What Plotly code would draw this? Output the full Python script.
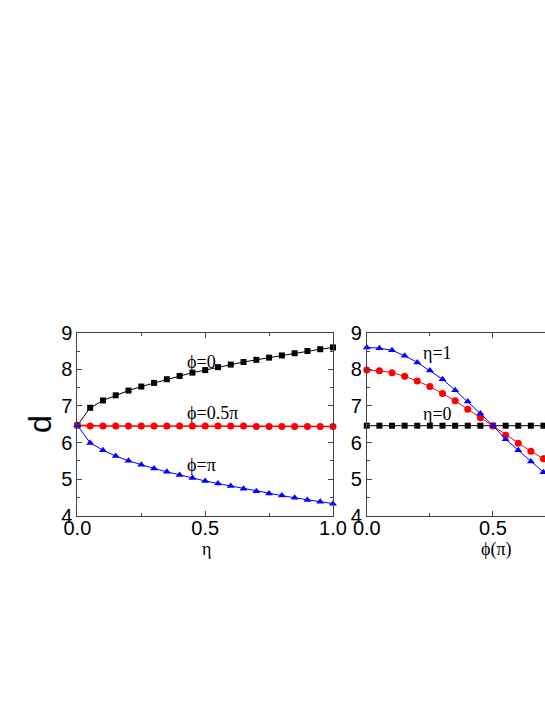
import plotly.graph_objects as go

# left panel: d versus eta
eta = [0.0, 0.05, 0.1, 0.15, 0.2, 0.25, 0.3, 0.35, 0.4, 0.45, 0.5,
       0.55, 0.6, 0.65, 0.7, 0.75, 0.8, 0.85, 0.9, 0.95, 1.0]
d_phi0 = [6.47, 6.95, 7.15, 7.29, 7.42, 7.53, 7.63, 7.73, 7.82, 7.91, 7.98,
          8.06, 8.13, 8.20, 8.26, 8.32, 8.38, 8.44, 8.50, 8.55, 8.60]
d_phi05 = [6.47, 6.45, 6.45, 6.45, 6.45, 6.45, 6.45, 6.45, 6.45, 6.45, 6.45,
           6.45, 6.45, 6.45, 6.44, 6.44, 6.44, 6.44, 6.44, 6.44, 6.44]
d_phipi = [6.47, 5.99, 5.79, 5.63, 5.50, 5.39, 5.29, 5.20, 5.11, 5.03, 4.95,
           4.88, 4.81, 4.74, 4.67, 4.61, 4.55, 4.49, 4.43, 4.38, 4.33]

# right panel: d versus phi (in units of pi)
phi = [0.0, 0.05, 0.1, 0.15, 0.2, 0.25, 0.3, 0.35, 0.4, 0.45, 0.5,
       0.55, 0.6, 0.65, 0.7, 0.75, 0.8, 0.85, 0.9, 0.95, 1.0]
d_eta0 = [6.46] * 21
d_eta05 = [7.98, 7.96, 7.91, 7.81, 7.68, 7.53, 7.34, 7.14, 6.91, 6.68, 6.45,
           6.20, 5.98, 5.76, 5.56, 5.38, 5.22, 5.10, 5.01, 4.96, 4.94]
d_eta1 = [8.60, 8.58, 8.52, 8.37, 8.19, 7.97, 7.73, 7.43, 7.12, 6.79, 6.46,
          6.09, 5.79, 5.48, 5.19, 4.95, 4.73, 4.55, 4.42, 4.35, 4.32]

fig = go.Figure()

def add(x, y, color, symbol, size, xa, ya, width=1):
    fig.add_trace(go.Scatter(
        x=x, y=y, mode='lines+markers', xaxis=xa, yaxis=ya,
        line=dict(color=color, width=width),
        marker=dict(color=color, symbol=symbol, size=size),
        cliponaxis=False, showlegend=False))

add(eta, d_phi0, 'black', 'square', 6, 'x', 'y')
add(eta, d_phi05, 'red', 'circle', 7, 'x', 'y', width=1.6)
add(eta, d_phipi, 'blue', 'triangle-up', 7, 'x', 'y')

add(phi, d_eta0, 'black', 'square', 6, 'x2', 'y2')
add(phi, d_eta05, 'red', 'circle', 7, 'x2', 'y2')
add(phi, d_eta1, 'blue', 'triangle-up', 7, 'x2', 'y2')

axis_col = '#444444'
tick_font = dict(family='Liberation Sans, Arial', size=20, color='black')
common = dict(showline=True, linecolor=axis_col, linewidth=1, showgrid=False,
              zeroline=False, ticks='inside', ticklen=5, tickcolor=axis_col,
              tickfont=tick_font)

ydom = [0.2685, 0.528]
fig.update_layout(
    width=545, height=705,
    margin=dict(l=0, r=0, t=0, b=0, autoexpand=False),
    paper_bgcolor='white', plot_bgcolor='white',
    xaxis=dict(domain=[0.142, 0.611], range=[0, 1], dtick=0.5, tickformat='.1f',
               mirror='allticks', anchor='y', ticklabelstandoff=-6,
               minor=dict(ticks='inside', ticklen=3, dtick=0.25, tickcolor=axis_col),
               **common),
    yaxis=dict(domain=ydom, range=[4, 9], dtick=1, mirror='allticks', anchor='x',
               minor=dict(ticks='inside', ticklen=3, dtick=0.5, tickcolor=axis_col),
               **common),
    xaxis2=dict(domain=[0.673, 1.0], range=[0, 0.706], tickvals=[0, 0.5],
                ticktext=['0.0', '0.5'], mirror='allticks', anchor='y2',
                ticklabelstandoff=-6,
                minor=dict(ticks='inside', ticklen=3, tickvals=[0.25], tickcolor=axis_col),
                **common),
    yaxis2=dict(domain=ydom, range=[4, 9], dtick=1, mirror=False, anchor='x2',
                minor=dict(ticks='inside', ticklen=3, dtick=0.5, tickcolor=axis_col),
                **common),
)

serif = dict(family='Liberation Serif, Times New Roman', size=18, color='black')
labels = [
    ('x', 'y', 0.42, 8.21, 'ϕ=0'),
    ('x', 'y', 0.42, 6.80, 'ϕ=0.5π'),
    ('x', 'y', 0.42, 5.39, 'ϕ=π'),
    ('x2', 'y2', 0.216, 8.44, 'η=1'),
    ('x2', 'y2', 0.216, 6.77, 'η=0'),
]
for xr, yr, x, y, t in labels:
    fig.add_annotation(x=x, y=y, xref=xr, yref=yr, text=t, showarrow=False,
                       xanchor='left', yanchor='middle', font=serif)

fig.add_annotation(x=40 / 545, y=1 - 424 / 705, xref='paper', yref='paper',
                   text='d', showarrow=False, textangle=-90,
                   xanchor='center', yanchor='middle',
                   font=dict(family='Liberation Sans, Arial', size=32, color='black'))
fig.add_annotation(x=206 / 545, y=1 - 549 / 705, xref='paper', yref='paper',
                   text='η', showarrow=False, xanchor='center', yanchor='middle',
                   font=serif)
fig.add_annotation(x=496 / 545, y=1 - 549 / 705, xref='paper', yref='paper',
                   text='ϕ(π)', showarrow=False, xanchor='center', yanchor='middle',
                   font=serif)

fig.write_html('out.html', config={'displayModeBar': False},
               post_script="document.body.style.margin='0px';")
